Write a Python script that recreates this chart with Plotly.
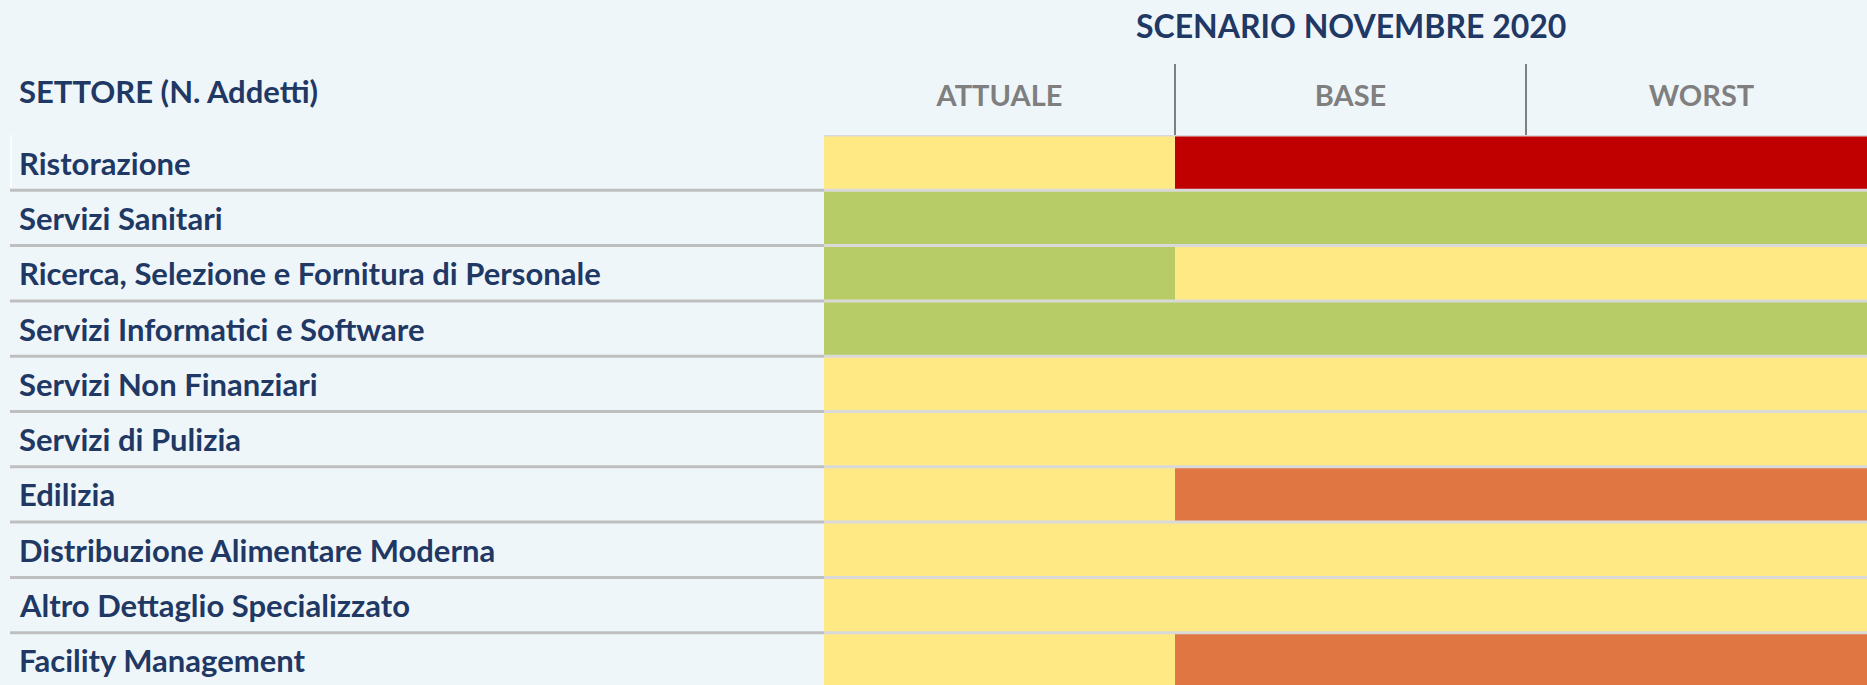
import plotly.graph_objects as go

SETTORI = [
    "Ristorazione",
    "Servizi Sanitari",
    "Ricerca, Selezione e Fornitura di Personale",
    "Servizi Informatici e Software",
    "Servizi Non Finanziari",
    "Servizi di Pulizia",
    "Edilizia",
    "Distribuzione Alimentare Moderna",
    "Altro Dettaglio Specializzato",
    "Facility Management",
]
SCENARI = ["ATTUALE", "BASE", "WORST"]

# 0 = verde, 1 = giallo, 2 = arancione, 3 = rosso
LIVELLO_ATTUALE = [1, 0, 0, 0, 1, 1, 1, 1, 1, 1]
LIVELLO_BASE = [3, 0, 1, 0, 1, 1, 2, 1, 1, 2]
LIVELLO_WORST = [3, 0, 1, 0, 1, 1, 2, 1, 1, 2]

TITOLO = "SCENARIO NOVEMBRE 2020"
INTESTAZIONE = "SETTORE (N. Addetti)"

# stile
FONT = "Lato, Carlito, sans-serif"
NAVY = "#1F3864"
GRIGIO = "#7F7F7F"
SFONDO = "#EFF6FA"
COLORI = ["#B7CC67", "#FFE985", "#E07742", "#C00000"]

W, H = 1867, 685
M_L, M_T = 824, 135
PLOT_W = W - M_L
PLOT_H = H - M_T
ROW_H = 55.3
COL_W = 351.0


def px_to_paper_x(px):
    return (px - M_L) / PLOT_W


def px_to_paper_y(py):
    return 1 + (M_T - py) / PLOT_H


z = [list(r) for r in zip(LIVELLO_ATTUALE, LIVELLO_BASE, LIVELLO_WORST)]
n = len(SETTORI)

colorscale = [[i / (len(COLORI) - 1), c] for i, c in enumerate(COLORI)]

fig = go.Figure(
    go.Heatmap(
        z=z,
        x=list(range(len(SCENARI))),
        y=list(range(n)),
        zmin=0,
        zmax=len(COLORI) - 1,
        colorscale=colorscale,
        showscale=False,
        hoverinfo="skip",
    )
)

# linee separatrici tra le righe
shapes = []
for i in range(n):
    yb = i - 0.5
    shapes.append(dict(type="line", xref="paper", yref="y", x0=0, x1=1,
                       y0=yb, y1=yb, line=dict(color="#D9D9D9", width=3)))
    if i > 0:
        shapes.append(dict(type="line", xref="paper", yref="y",
                           x0=px_to_paper_x(10), x1=0, y0=yb, y1=yb,
                           line=dict(color="#BFBFBF", width=3)))
# bordino bianco a sinistra della prima riga
shapes.append(dict(type="line", xref="paper", yref="y",
                   x0=px_to_paper_x(11), x1=px_to_paper_x(11), y0=-0.5, y1=0.45,
                   line=dict(color="white", width=1.5)))
# divisori verticali nell'intestazione
for k in range(1, len(SCENARI)):
    shapes.append(dict(type="line", xref="x", yref="paper", x0=k - 0.5, x1=k - 0.5,
                       y0=1, y1=px_to_paper_y(64), line=dict(color=GRIGIO, width=2)))

annotations = [
    dict(text=f"<b>{TITOLO}</b>", xref="x", yref="paper", x=1, y=px_to_paper_y(26),
         showarrow=False, xanchor="center", yanchor="middle",
         font=dict(family=FONT, size=32, color=NAVY)),
    dict(text=f"<b>{INTESTAZIONE}</b>", xref="paper", yref="paper",
         x=px_to_paper_x(17), y=px_to_paper_y(91), showarrow=False,
         xanchor="left", yanchor="middle",
         font=dict(family=FONT, size=31, color=NAVY)),
]
for i, s in enumerate(SETTORI):
    annotations.append(
        dict(text=f"<b>{s}</b>", xref="paper", yref="y", x=px_to_paper_x(17), y=i,
             showarrow=False, xanchor="left", yanchor="middle",
             font=dict(family=FONT, size=31, color=NAVY))
    )

fig.update_layout(
    width=W,
    height=H,
    margin=dict(l=M_L, r=0, t=M_T, b=0, pad=0),
    paper_bgcolor=SFONDO,
    plot_bgcolor=SFONDO,
    shapes=shapes,
    annotations=annotations,
    xaxis=dict(
        side="top",
        range=[-0.5, -0.5 + PLOT_W / COL_W],
        tickvals=list(range(len(SCENARI))),
        ticktext=[f"<b>{c}</b>" for c in SCENARI],
        tickfont=dict(family=FONT, size=29, color=GRIGIO),
        ticks="outside",
        ticklen=16,
        tickcolor="rgba(0,0,0,0)",
        showgrid=False,
        zeroline=False,
        showline=False,
        fixedrange=True,
    ),
    yaxis=dict(
        range=[-0.5 + PLOT_H / ROW_H, -0.5],
        showticklabels=False,
        showgrid=False,
        zeroline=False,
        showline=False,
        ticks="",
        fixedrange=True,
    ),
    showlegend=False,
)

fig.write_html(
    "out.html",
    config={"displayModeBar": False},
    post_script="document.body.style.margin='0';",
)
